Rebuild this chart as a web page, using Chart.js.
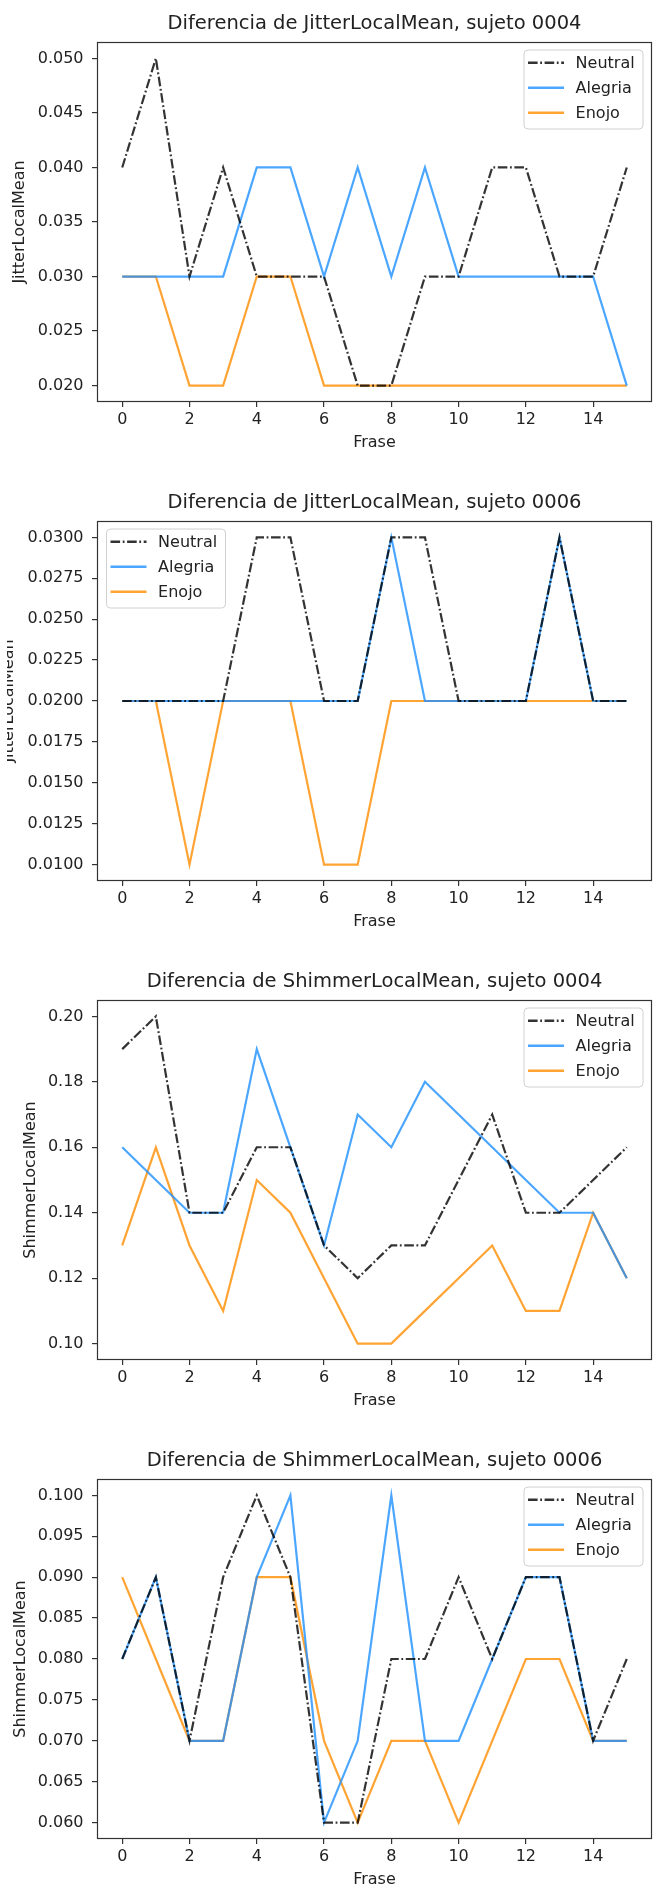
<!DOCTYPE html>
<html>
<head>
<meta charset="utf-8">
<title>Diferencias por frase</title>
<script src="https://cdn.jsdelivr.net/npm/chart.js@4.4.1/dist/chart.umd.min.js"></script>
<style>
  html, body { margin: 0; padding: 0; background: #fff; overflow: hidden; }
  .panel { position: absolute; height: 452px; }
</style>
</head>
<body>
<div class="panel" style="top:0;left:0;width:654px"><canvas id="jitter0004" width="654" height="452"></canvas></div>
<div class="panel" style="top:479px;left:7px;width:647px"><canvas id="jitter0006" width="647" height="452"></canvas></div>
<div class="panel" style="top:958px;left:0;width:654px"><canvas id="shimmer0004" width="654" height="452"></canvas></div>
<div class="panel" style="top:1437px;left:0;width:654px"><canvas id="shimmer0006" width="654" height="452"></canvas></div>

<script>
'use strict';

// Frase index (x axis)
var frases = [0, 1, 2, 3, 4, 5, 6, 7, 8, 9, 10, 11, 12, 13, 14, 15];

// JitterLocalMean, sujeto 0004
var jitter0004Neutral = [0.04, 0.05, 0.03, 0.04, 0.03, 0.03, 0.03, 0.02, 0.02, 0.03, 0.03, 0.04, 0.04, 0.03, 0.03, 0.04];
var jitter0004Alegria = [0.03, 0.03, 0.03, 0.03, 0.04, 0.04, 0.03, 0.04, 0.03, 0.04, 0.03, 0.03, 0.03, 0.03, 0.03, 0.02];
var jitter0004Enojo   = [0.03, 0.03, 0.02, 0.02, 0.03, 0.03, 0.02, 0.02, 0.02, 0.02, 0.02, 0.02, 0.02, 0.02, 0.02, 0.02];

// JitterLocalMean, sujeto 0006
var jitter0006Neutral = [0.02, 0.02, 0.02, 0.02, 0.03, 0.03, 0.02, 0.02, 0.03, 0.03, 0.02, 0.02, 0.02, 0.03, 0.02, 0.02];
var jitter0006Alegria = [0.02, 0.02, 0.02, 0.02, 0.02, 0.02, 0.02, 0.02, 0.03, 0.02, 0.02, 0.02, 0.02, 0.03, 0.02, 0.02];
var jitter0006Enojo   = [0.02, 0.02, 0.01, 0.02, 0.02, 0.02, 0.01, 0.01, 0.02, 0.02, 0.02, 0.02, 0.02, 0.02, 0.02, 0.02];

// ShimmerLocalMean, sujeto 0004
var shimmer0004Neutral = [0.19, 0.20, 0.14, 0.14, 0.16, 0.16, 0.13, 0.12, 0.13, 0.13, 0.15, 0.17, 0.14, 0.14, 0.15, 0.16];
var shimmer0004Alegria = [0.16, 0.15, 0.14, 0.14, 0.19, 0.16, 0.13, 0.17, 0.16, 0.18, 0.17, 0.16, 0.15, 0.14, 0.14, 0.12];
var shimmer0004Enojo   = [0.13, 0.16, 0.13, 0.11, 0.15, 0.14, 0.12, 0.10, 0.10, 0.11, 0.12, 0.13, 0.11, 0.11, 0.14, 0.12];

// ShimmerLocalMean, sujeto 0006
var shimmer0006Neutral = [0.08, 0.09, 0.07, 0.09, 0.10, 0.09, 0.06, 0.06, 0.08, 0.08, 0.09, 0.08, 0.09, 0.09, 0.07, 0.08];
var shimmer0006Alegria = [0.08, 0.09, 0.07, 0.07, 0.09, 0.10, 0.06, 0.07, 0.10, 0.07, 0.07, 0.08, 0.09, 0.09, 0.07, 0.07];
var shimmer0006Enojo   = [0.09, 0.08, 0.07, 0.07, 0.09, 0.09, 0.07, 0.06, 0.07, 0.07, 0.06, 0.07, 0.08, 0.08, 0.07, 0.07];

var FONT = "'DejaVu Sans', sans-serif";
var TEXT = '#222222';

/**
 * Outline the whole plot area (all four spines).
 */
var frameBox = {
    id: 'frameBox',
    afterDraw: function(chart) {
        var a = chart.chartArea, ctx = chart.ctx;
        ctx.save();
        ctx.strokeStyle = '#333333';
        ctx.lineWidth = 1.2;
        ctx.strokeRect(Math.round(a.left) + 0.5, Math.round(a.top) + 0.5,
                       Math.round(a.right - a.left) - 1, Math.round(a.bottom - a.top) - 1);
        ctx.restore();
    }
};

/**
 * Legend drawn inside the plot, in a rounded box, one row per dataset.
 */
var boxLegend = {
    id: 'boxLegend',
    afterDatasetsDraw: function(chart, args, opts) {
        var a = chart.chartArea, ctx = chart.ctx;
        var w = 119, h = 79, r = 4;
        var x0 = opts.side === 'left' ? a.left + 9.5 : a.right - 9 - w;
        var y0 = a.top + 8;

        ctx.save();
        ctx.beginPath();
        ctx.moveTo(x0 + r, y0);
        ctx.arcTo(x0 + w, y0, x0 + w, y0 + h, r);
        ctx.arcTo(x0 + w, y0 + h, x0, y0 + h, r);
        ctx.arcTo(x0, y0 + h, x0, y0, r);
        ctx.arcTo(x0, y0, x0 + w, y0, r);
        ctx.closePath();
        ctx.fillStyle = 'rgba(255,255,255,0.8)';
        ctx.fill();
        ctx.strokeStyle = '#d0d0d0';
        ctx.lineWidth = 1;
        ctx.stroke();

        ctx.font = '16px ' + FONT;
        ctx.textBaseline = 'middle';
        ctx.textAlign = 'left';
        chart.data.datasets.forEach(function(ds, i) {
            var cy = y0 + 12.7 + i * 25;
            ctx.beginPath();
            ctx.strokeStyle = ds.borderColor;
            ctx.lineWidth = ds.borderWidth + 0.4;
            ctx.setLineDash(ds.borderDash || []);
            ctx.moveTo(x0 + 4, cy);
            ctx.lineTo(x0 + 40, cy);
            ctx.stroke();
            ctx.setLineDash([]);
            ctx.fillStyle = TEXT;
            ctx.fillText(ds.label, x0 + 51.6, cy + 1);
        });
        ctx.restore();
    }
};

function series(label, values, color, dash) {
    return {
        label: label,
        data: values.map(function(v, i) { return {x: frases[i], y: v}; }),
        borderColor: color,
        borderWidth: 2.2,
        borderDash: dash,
        pointRadius: 0,
        tension: 0,
        fill: false
    };
}

function makeChart(panel) {
    var span = panel.yMax - panel.yMin;
    return new Chart(document.getElementById(panel.id), {
        type: 'line',
        data: {
            datasets: [
                series('Neutral', panel.neutral, 'rgba(0,0,0,0.8)', [9.6, 2.6, 1.8, 2.6]),
                series('Alegria', panel.alegria, 'rgba(30,144,255,0.8)', []),
                series('Enojo', panel.enojo, 'rgba(255,140,0,0.8)', [])
            ]
        },
        options: {
            responsive: false,
            animation: false,
            events: [],
            layout: { padding: { left: 0, right: 2, top: 0, bottom: 0 } },
            plugins: {
                legend: { display: false },
                tooltip: { enabled: false },
                title: {
                    display: true,
                    fullSize: false,
                    text: panel.title,
                    color: TEXT,
                    font: { family: FONT, size: 19.5, weight: 'normal' },
                    padding: { top: 12.3, bottom: 6.3 }
                },
                boxLegend: { side: panel.legendSide }
            },
            scales: {
                x: {
                    type: 'linear',
                    min: -0.75,
                    max: 15.75,
                    border: { display: false },
                    grid: { drawOnChartArea: false, drawTicks: true, tickLength: 5, lineWidth: 1.2, color: '#333333', tickColor: '#333333' },
                    ticks: {
                        stepSize: 2,
                        includeBounds: false,
                        padding: 3,
                        maxRotation: 0,
                        color: TEXT,
                        font: { family: FONT, size: 16 },
                        callback: function(v) { return String(v); }
                    },
                    title: {
                        display: true,
                        text: 'Frase',
                        color: TEXT,
                        font: { family: FONT, size: 16 },
                        padding: { top: 0, bottom: 0 }
                    },
                    afterFit: function(scale) { scale.height = 50; }
                },
                y: {
                    type: 'linear',
                    min: panel.yMin - span * 0.05,
                    max: panel.yMax + span * 0.05,
                    border: { display: false },
                    grid: { drawOnChartArea: false, drawTicks: true, tickLength: 5, lineWidth: 1.2, color: '#333333', tickColor: '#333333' },
                    ticks: {
                        stepSize: panel.yStep,
                        includeBounds: false,
                        padding: 8.5,
                        color: TEXT,
                        font: { family: FONT, size: 16 },
                        callback: function(v) { return Number(v).toFixed(panel.yDecimals); }
                    },
                    title: {
                        display: true,
                        text: panel.yLabel,
                        color: TEXT,
                        font: { family: FONT, size: 16 },
                        padding: { top: panel.yLabelX - 9.6, bottom: 0 }
                    },
                    afterFit: function(scale) { scale.width = panel.axisWidth; }
                }
            }
        },
        plugins: [frameBox, boxLegend]
    });
}

var panels = [
    { id: 'jitter0004', title: 'Diferencia de JitterLocalMean, sujeto 0004', yLabel: 'JitterLocalMean',
      neutral: jitter0004Neutral, alegria: jitter0004Alegria, enojo: jitter0004Enojo,
      yMin: 0.02, yMax: 0.05, yStep: 0.005, yDecimals: 3, axisWidth: 97, yLabelX: 20, legendSide: 'right' },
    { id: 'jitter0006', title: 'Diferencia de JitterLocalMean, sujeto 0006', yLabel: 'JitterLocalMean',
      neutral: jitter0006Neutral, alegria: jitter0006Alegria, enojo: jitter0006Enojo,
      yMin: 0.01, yMax: 0.03, yStep: 0.0025, yDecimals: 4, axisWidth: 90, yLabelX: 1.5, legendSide: 'left' },
    { id: 'shimmer0004', title: 'Diferencia de ShimmerLocalMean, sujeto 0004', yLabel: 'ShimmerLocalMean',
      neutral: shimmer0004Neutral, alegria: shimmer0004Alegria, enojo: shimmer0004Enojo,
      yMin: 0.10, yMax: 0.20, yStep: 0.02, yDecimals: 2, axisWidth: 97, yLabelX: 31, legendSide: 'right' },
    { id: 'shimmer0006', title: 'Diferencia de ShimmerLocalMean, sujeto 0006', yLabel: 'ShimmerLocalMean',
      neutral: shimmer0006Neutral, alegria: shimmer0006Alegria, enojo: shimmer0006Enojo,
      yMin: 0.06, yMax: 0.10, yStep: 0.005, yDecimals: 3, axisWidth: 97, yLabelX: 21, legendSide: 'right' }
];

panels.forEach(makeChart);
</script>
</body>
</html>
